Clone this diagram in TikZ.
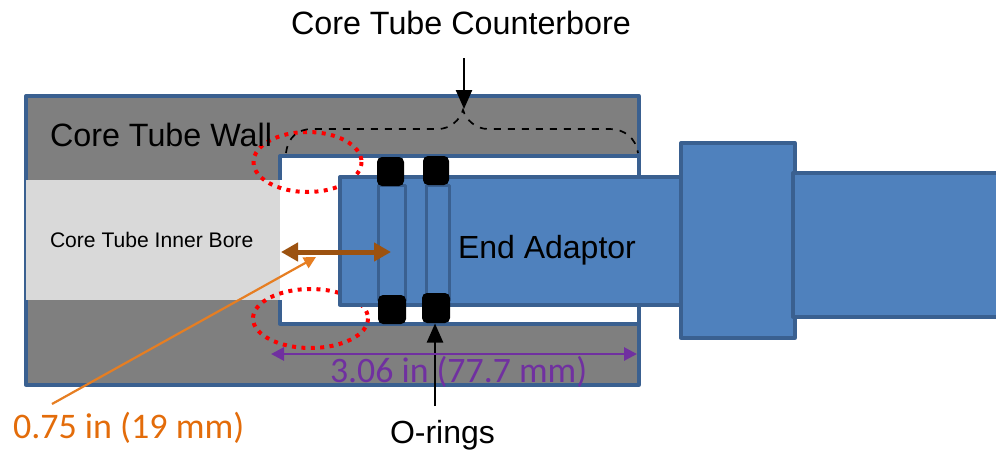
\documentclass[tikz,border=0pt]{standalone}
\usepackage{fontspec}
\setmainfont{Liberation Sans}
\newfontfamily\calib{Carlito}
\usetikzlibrary{arrows.meta}
\definecolor{edgeblue}{HTML}{3A6090}
\definecolor{fillblue}{HTML}{4F81BD}
\definecolor{wallgray}{HTML}{7F7F7F}
\definecolor{boregray}{HTML}{D9D9D9}
\definecolor{brownarrow}{HTML}{9C5210}
\definecolor{orangeline}{HTML}{E67E22}
\definecolor{orangetext}{HTML}{E36C0A}
\definecolor{purpleline}{HTML}{7030A0}
\tikzset{
  partbox/.style={draw=edgeblue,line width=3.3pt,line join=round,fill=fillblue},
  wallbox/.style={draw=edgeblue,line width=3.3pt,line join=round,fill=wallgray},
  groovebox/.style={draw=edgeblue,line width=3pt,line join=round},
  seal/.style={fill=black,rounded corners=5pt},
  redring/.style={draw=red,line width=4pt,dash pattern=on 4pt off 5.4pt},
  blackarrow/.style={draw=black,line width=2.4pt,-{Triangle[length=19pt,width=16pt]}},
  label/.style={anchor=base west,inner sep=0pt,outer sep=0pt},
}
\begin{document}
\begin{tikzpicture}[x=1pt,y=-1pt]
\useasboundingbox (0,0) rectangle (996,450);
% core tube
\draw[wallbox] (26,96) rectangle (639,385);
\fill[boregray] (26,180) rectangle (281,300);
\draw[edgeblue,line width=3.3pt,line join=round,fill=white] (280,180) -- (280,156) -- (639,156) -- (639,324) -- (280,324) -- (280,300);
\fill[white] (281,180) rectangle (300,300);
% red rings
\draw[redring] (307.5,162) ellipse [x radius=54,y radius=30];
\draw[redring] (310.5,318.5) ellipse [x radius=57.5,y radius=29.5];
% adaptor
\draw[partbox] (340,177) rectangle (681,305);
\draw[groovebox] (378,185) rectangle (405,300);
\draw[groovebox] (426,185) rectangle (449,300);
\draw[partbox] (681,143) rectangle (795,338);
\fill[fillblue] (793,173) rectangle (996,317);
\draw[edgeblue,line width=3.3pt,line join=round] (996,173) -- (793,173) -- (793,317) -- (996,317);
% seals
\fill[seal] (377,157) rectangle (404,186);
\fill[seal] (423,156) rectangle (449,185);
\fill[seal] (378,295) rectangle (406,324);
\fill[seal] (422,293) rectangle (450,323);
\coordinate (sealD) at (435,323.5);
% brace
\draw[black,line width=1.7pt,dash pattern=on 7pt off 7pt]
  (286,153) .. controls (288,137) and (298,129) .. (312,129) -- (438,129)
  .. controls (450,129) and (460,120) .. (463,110)
  .. controls (466,120) and (476,129) .. (488,129) -- (610,129)
  .. controls (624,129) and (636,138) .. (638,153);
% labels
\node[label] (title) at (291,34.5) {\fontsize{32.3}{32.3}\selectfont Core Tube Counterbore};
\node[label] (wall) at (50,146) {\fontsize{32.3}{32.3}\selectfont Core Tube Wall};
\node[label] (inner) at (50,247.5) {\fontsize{21.1}{21.1}\selectfont Core Tube Inner Bore};
\node[label] (adaptor) at (458,258) {\fontsize{32}{32}\selectfont End Adaptor};
\node[label] (orings) at (390,443) {\fontsize{32}{32}\selectfont O-rings};
\node[label,text=purpleline] (dim) at (330,382.5) {\calib\fontsize{35.8}{35.8}\selectfont 3.06 in (77.7 mm)};
\node[label,text=orangetext] (bore) at (13,438) {\calib\fontsize{36}{36}\selectfont 0.75 in (19 mm)};
% arrows
\coordinate (titleFoot) at (464,58);
\coordinate (braceTip) at (464,109);
\draw[blackarrow] (titleFoot) -- (braceTip);
\coordinate (oringFoot) at (435,406);
\draw[blackarrow] (oringFoot) -- (sealD);
\coordinate (brownL) at (281,252);
\coordinate (brownR) at (391,252);
\draw[brownarrow,line width=5pt,{Triangle[length=17pt,width=18pt]}-{Triangle[length=17pt,width=18pt]}] (brownL) -- (brownR);
\coordinate (orangeFoot) at (52,404);
\coordinate (orangeTip) at (316,257);
\draw[orangeline,line width=2.2pt,-{Triangle[length=12pt,width=12pt]}] (orangeFoot) -- (orangeTip);
\coordinate (purpleL) at (271,354);
\coordinate (purpleR) at (637,354);
\draw[purpleline,line width=2.8pt,{Triangle[length=13pt,width=13pt]}-{Triangle[length=13pt,width=13pt]}] (purpleL) -- (purpleR);
\end{tikzpicture}
\end{document}
